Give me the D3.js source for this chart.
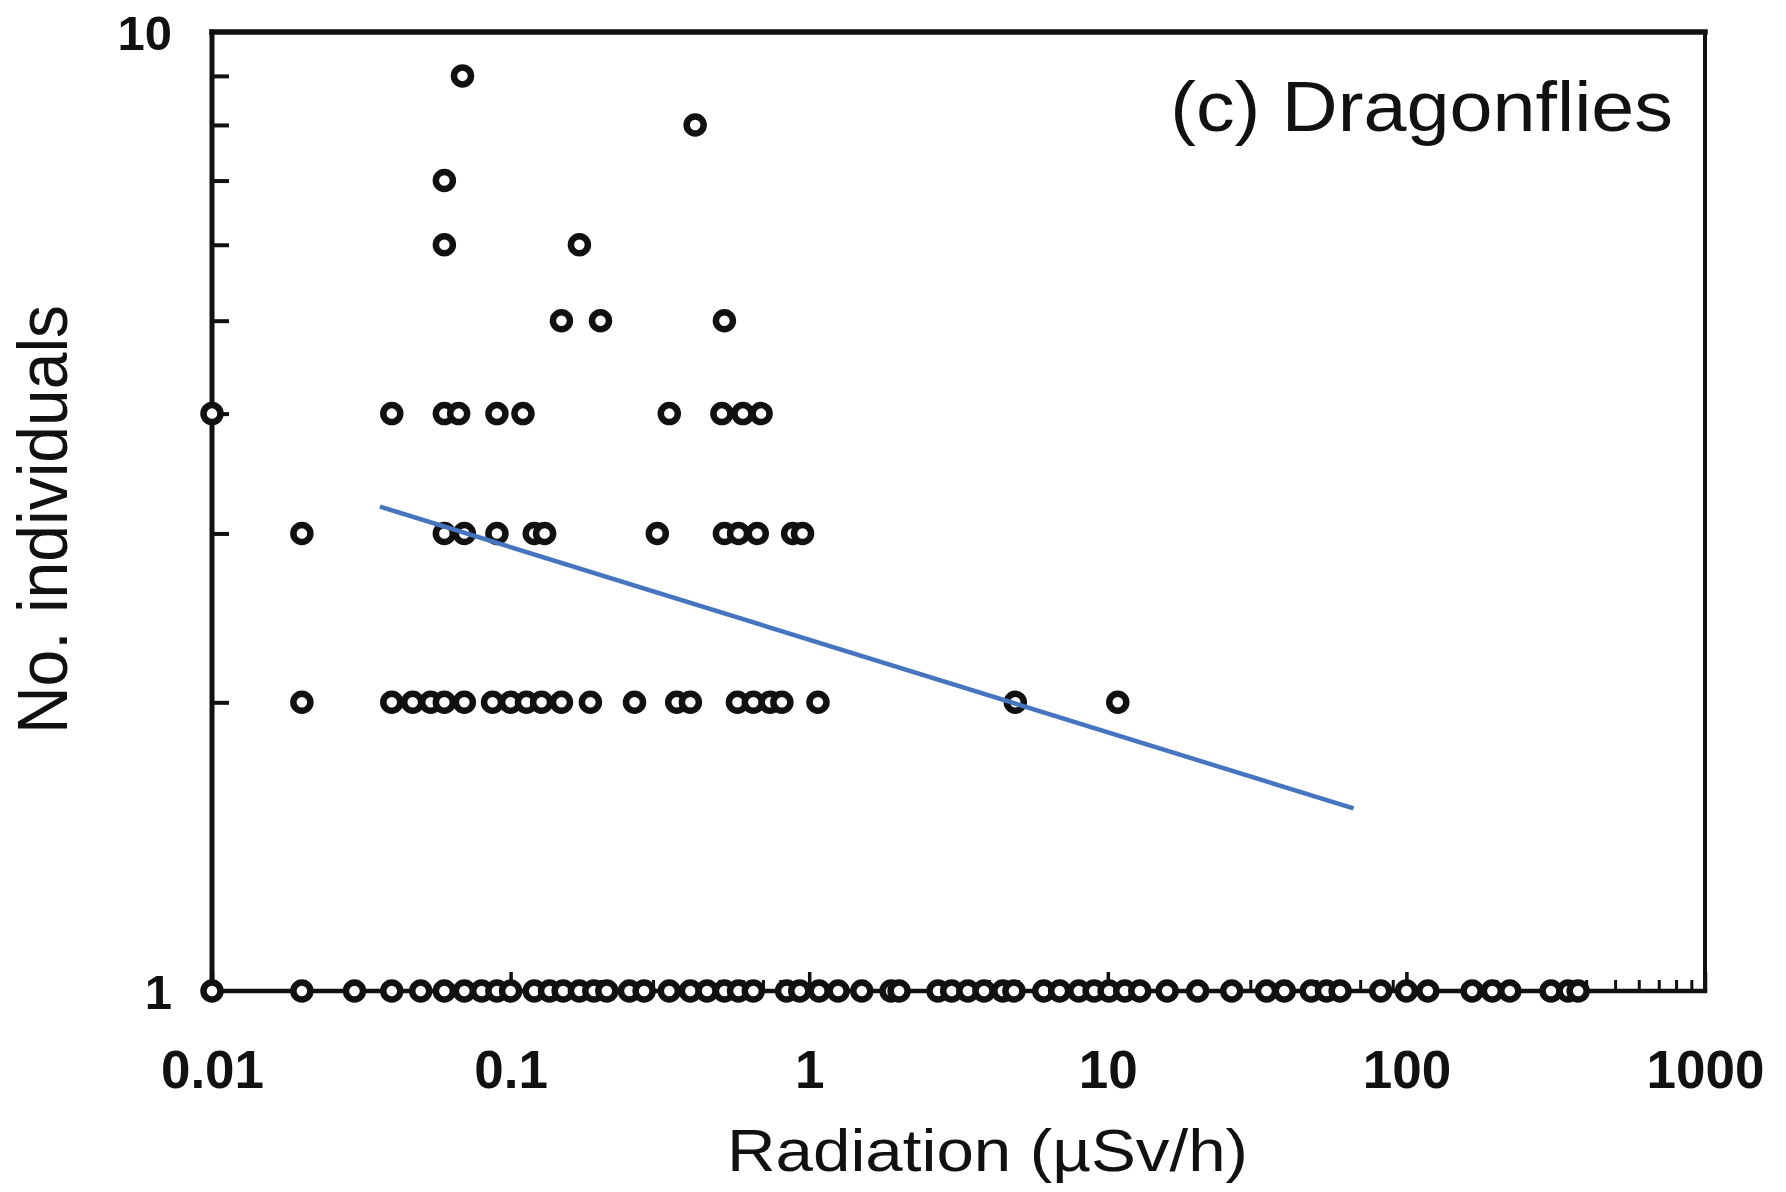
<!DOCTYPE html>
<html lang="en">
<head>
<meta charset="UTF-8">
<title>(c) Dragonflies</title>
<script src="https://d3js.org/d3.v7.min.js"></script>
<style>
  html, body { margin: 0; padding: 0; background: #fff; }
  svg { display: block; font-family: "Liberation Sans", Arial, Helvetica, sans-serif; }
  .tick text { font-weight: bold; fill: #111; }
  .tick line { stroke: #111; }
  .dot { fill: #fff; stroke: #111; stroke-width: 6.5px; }
  .frame { stroke: #111; stroke-linecap: square; }
  .trend { fill: none; stroke: #4674c0; stroke-width: 4.5px; }
</style>
</head>
<body>
<svg id="chart" width="1786" height="1192"></svg>
<script>
// radiation dose (µSv/h) at each site, grouped by number of dragonflies caught
const count1 = [0.01, 0.02, 0.03, 0.04, 0.05, 0.06, 0.07, 0.08, 0.09, 0.1, 0.12, 0.135, 0.15, 0.17, 0.19, 0.21,
                0.25, 0.28, 0.34, 0.4, 0.455, 0.52, 0.58, 0.65, 0.84, 0.93, 1.08, 1.25, 1.5, 1.88, 2.0, 2.7, 3.0,
                3.4, 3.85, 4.45, 4.85, 6.1, 6.9, 8.0, 9.0, 10.1, 11.4, 12.8, 15.8, 20, 26, 34, 39, 48, 54, 60,
                82, 100, 118, 166, 194, 222, 305, 348, 376];
const count2 = [0.02, 0.04, 0.047, 0.054, 0.06, 0.07, 0.087, 0.1, 0.113, 0.127, 0.148, 0.185, 0.26, 0.36, 0.4,
                0.575, 0.65, 0.74, 0.81, 1.07, 4.9, 10.8];
const count3 = [0.02, 0.06, 0.07, 0.09, 0.12, 0.13, 0.31, 0.52, 0.58, 0.67, 0.88, 0.95];
const count4 = [0.01, 0.04, 0.06, 0.067, 0.09, 0.11, 0.34, 0.51, 0.6, 0.69];
const count5 = [0.148, 0.2, 0.52];
const count6 = [0.06, 0.17];
const count7 = [0.06];
const count8 = [0.415];
const count9 = [0.069];

const xTickValues = [0.01, 0.1, 1, 10, 100, 1000];
const xTickLabels = ["0.01", "0.1", "1", "10", "100", "1000"];
const yTickValues = [1, 10];
const yTickLabels = ["1", "10"];

// fitted trend line (end points)
const trendX = [0.0365, 66.5];
const trendY = [3.2, 1.55];

const rows = [count1, count2, count3, count4, count5, count6, count7, count8, count9];
const points = rows.flatMap((vals, i) => vals.map(v => ({ x: v, n: i + 1 })));

const margin = { top: 32, right: 81, bottom: 201, left: 212 };
const width = 1786 - margin.left - margin.right;
const height = 1192 - margin.top - margin.bottom;

const svg = d3.select("#chart")
    .append("g")
    .attr("transform", `translate(${margin.left},${margin.top})`);

const x = d3.scaleLog().domain([0.01, 1000]).range([0, width]);
const y = d3.scaleLog().domain([1, 10]).range([height, 0]);

// minor ticks (2..9 in every decade)
const isPow10 = v => Math.abs(Math.log10(v) - Math.round(Math.log10(v))) < 1e-9;
const xMinor = x.ticks().filter(v => !isPow10(v));
const yMinor = y.ticks().filter(v => !isPow10(v));

svg.append("g")
    .attr("transform", `translate(0,${height})`)
    .call(d3.axisBottom(x).tickValues(xMinor).tickSizeInner(-11).tickSizeOuter(0).tickFormat(""))
    .call(g => g.select(".domain").remove())
    .call(g => g.selectAll(".tick line").attr("stroke-width", 3));

svg.append("g")
    .attr("transform", `translate(0,${height})`)
    .call(d3.axisBottom(x).tickValues(xTickValues).tickSizeInner(-19).tickSizeOuter(0)
        .tickFormat((d, i) => xTickLabels[i]))
    .call(g => g.select(".domain").remove())
    .call(g => g.selectAll(".tick line").attr("stroke-width", 3.5))
    .call(g => g.selectAll(".tick text")
        .attr("y", 97).attr("dy", null)
        .attr("font-size", 53));

svg.append("g")
    .call(d3.axisLeft(y).tickValues(yMinor).tickSizeInner(-17).tickSizeOuter(0).tickFormat(""))
    .call(g => g.select(".domain").remove())
    .call(g => g.selectAll(".tick line").attr("stroke-width", 4));

svg.append("g")
    .call(d3.axisLeft(y).tickValues(yTickValues).tickSize(0).tickPadding(40)
        .tickFormat((d, i) => yTickLabels[i]))
    .call(g => g.select(".domain").remove())
    .call(g => g.selectAll(".tick text").attr("font-size", 49).attr("dy", "0.36em"));

// frame
const frame = [
    { x1: 0, y1: 0, x2: width, y2: 0, w: 5.5 },
    { x1: 0, y1: 0, x2: 0, y2: height, w: 5 },
    { x1: width, y1: 0, x2: width, y2: height, w: 4 },
    { x1: 0, y1: height, x2: width, y2: height, w: 4.5 }
];
svg.selectAll(".frame")
    .data(frame)
    .enter()
    .append("line")
    .attr("class", "frame")
    .attr("x1", d => d.x1).attr("y1", d => d.y1)
    .attr("x2", d => d.x2).attr("y2", d => d.y2)
    .attr("stroke-width", d => d.w);

// data points
svg.selectAll(".dot")
    .data(points)
    .enter()
    .append("circle")
    .attr("class", "dot")
    .attr("cx", d => x(d.x))
    .attr("cy", d => y(d.n))
    .attr("r", 8.5);

// trend line
svg.append("path")
    .attr("class", "trend")
    .attr("d", d3.line().x(d => x(d[0])).y(d => y(d[1]))(d3.zip(trendX, trendY)));

// labels
svg.append("text")
    .attr("transform", `translate(${width - 32},99) scale(1.105,1)`)
    .attr("text-anchor", "end")
    .attr("font-size", 70)
    .attr("fill", "#111")
    .text("(c) Dragonflies");

svg.append("text")
    .attr("transform", `translate(${width / 2 + 29},${height + 180}) scale(1.14,1)`)
    .attr("text-anchor", "middle")
    .attr("font-size", 59)
    .attr("fill", "#111")
    .text("Radiation (µSv/h)");

svg.append("text")
    .attr("transform", `translate(-145,${height / 2 + 8}) rotate(-90) scale(1,1.07)`)
    .attr("text-anchor", "middle")
    .attr("font-size", 66)
    .attr("fill", "#111")
    .text("No. individuals");
</script>
</body>
</html>
